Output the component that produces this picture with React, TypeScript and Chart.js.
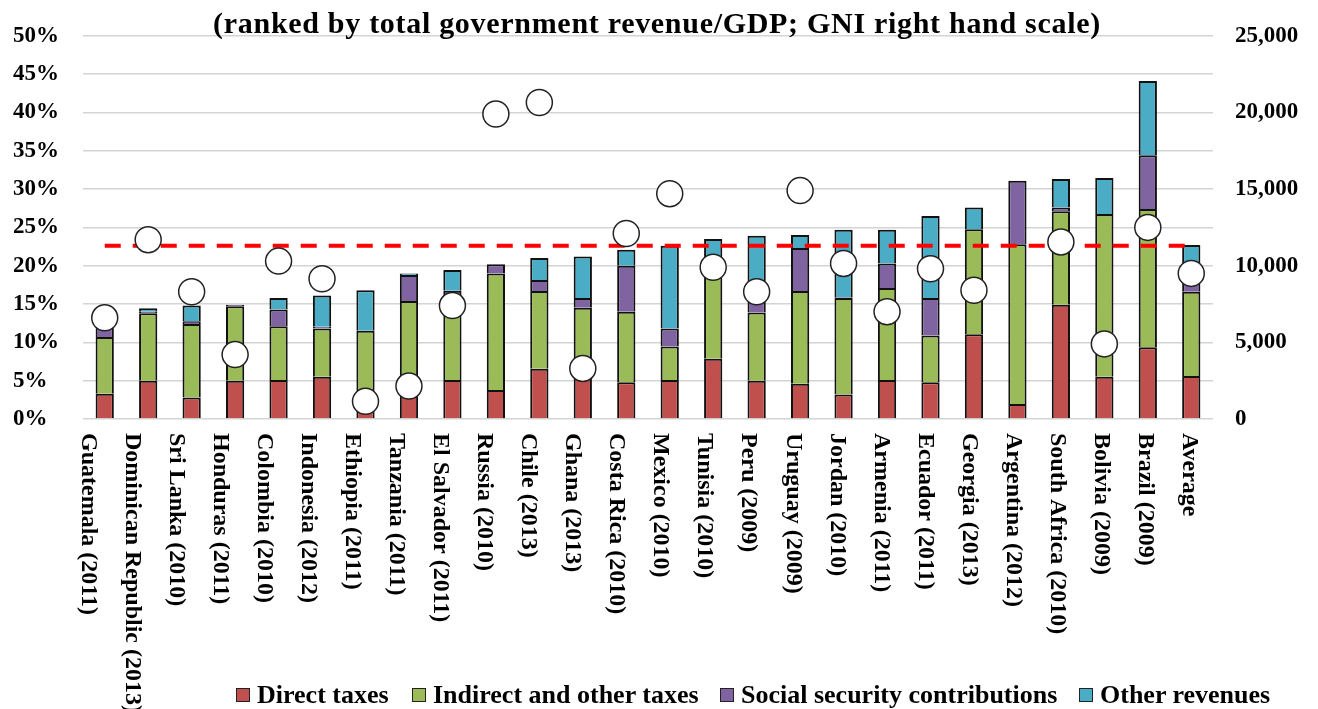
import React, { useEffect, useRef } from 'react';
import { Chart, registerables } from 'chart.js';

Chart.register(...registerables);

const categories = [
  'Guatemala (2011)', 'Dominican Republic (2013)', 'Sri Lanka (2010)', 'Honduras (2011)',
  'Colombia (2010)', 'Indonesia (2012)', 'Ethiopia (2011)', 'Tanzania (2011)',
  'El Salvador (2011)', 'Russia (2010)', 'Chile (2013)', 'Ghana (2013)',
  'Costa Rica (2010)', 'Mexico (2010)', 'Tunisia (2010)', 'Peru (2009)',
  'Uruguay (2009)', 'Jordan (2010)', 'Armenia (2011)', 'Ecuador (2011)',
  'Georgia (2013)', 'Argentina (2012)', 'South Africa (2010)', 'Bolivia (2009)',
  'Brazil (2009)', 'Average',
];

// % of GDP
const directTaxes = [3.3, 5.0, 2.8, 5.0, 5.1, 5.5, 2.0, 3.5, 5.1, 3.8, 6.55, 6.0, 4.8, 5.1, 7.85, 5.0, 4.6, 3.2, 5.1, 4.8, 11.05, 1.95, 14.9, 5.5, 9.35, 5.6];
const indirectTaxes = [7.4, 8.8, 9.6, 9.7, 7.0, 6.3, 9.5, 11.9, 10.9, 15.2, 10.15, 8.5, 9.2, 4.35, 13.15, 8.9, 12.1, 12.6, 12.0, 6.1, 13.7, 20.85, 12.2, 21.25, 18.05, 11.0];
const socialSecurity = [2.3, 0.2, 0.35, 0.2, 2.2, 0.25, 0, 3.4, 0.75, 1.2, 1.45, 1.3, 6.0, 2.35, 0, 2.1, 5.6, 0.1, 3.2, 4.9, 0, 8.3, 0.5, 0, 7.0, 1.9];
const otherRevenues = [0, 0.45, 2.05, 0, 1.5, 4.05, 5.3, 0.2, 2.7, 0, 2.85, 5.4, 2.1, 10.8, 2.5, 7.9, 1.7, 8.8, 4.4, 10.7, 2.85, 0, 3.7, 4.7, 9.7, 4.2];
// GNI per capita, right hand scale
const gniPerCapita = [6600, 11700, 8300, 4200, 10300, 9150, 1150, 2150, 7400, 19900, 20650, 3300, 12100, 14700, 9900, 8300, 14900, 10150, 7000, 9800, 8400, null, 11550, 4900, 12500, 9500];
const averageRevenue = 22.6;

const seriesNames = ['Direct taxes', 'Indirect and other taxes', 'Social security contributions', 'Other revenues'];
const seriesColors = ['#C0504D', '#9BBB59', '#8064A2', '#4BACC6'];

const titleText = '(ranked by total government revenue/GDP; GNI right hand scale)';
const FONT = '"Liberation Serif", "Times New Roman", serif';

const xLabelPlugin = {
  id: 'rotatedXLabels',
  afterDraw(chart: any) {
    const { ctx, scales, chartArea } = chart;
    const x = scales.x;
    const n = categories.length;
    const last = x.getPixelForValue(n - 1);
    ctx.save();
    ctx.font = `bold 24px ${FONT}`;
    ctx.fillStyle = '#000';
    ctx.textAlign = 'left';
    ctx.textBaseline = 'middle';
    categories.forEach((c, i) => {
      const px = x.getPixelForValue(i);
      const lx = px - 2 - (last - px) * 0.0138;
      ctx.save();
      ctx.translate(lx, chartArea.bottom + 14);
      ctx.rotate(Math.PI / 2);
      ctx.fillText(c, 0, 0);
      ctx.restore();
    });
    ctx.restore();
  },
};

export default function App() {
  const canvasRef = useRef<HTMLCanvasElement | null>(null);

  useEffect(() => {
    if (!canvasRef.current) return;
    const tickFont = { family: FONT, size: 23, weight: 'bold' as const };
    const barData = [directTaxes, indirectTaxes, socialSecurity, otherRevenues];
    const chart = new Chart(canvasRef.current, {
      type: 'bar',
      data: {
        labels: categories,
        datasets: [
          {
            type: 'line' as const,
            label: 'GNI per capita',
            data: gniPerCapita,
            yAxisID: 'y1',
            showLine: false,
            pointRadius: 13,
            pointBackgroundColor: '#ffffff',
            pointBorderColor: '#222222',
            pointBorderWidth: 1.5,
            order: 0,
            stack: 'gni',
          },
          {
            type: 'line' as const,
            label: 'Average revenue',
            data: categories.map(() => averageRevenue),
            yAxisID: 'y',
            borderColor: '#FF0000',
            borderWidth: 4,
            borderDash: [16, 12],
            pointRadius: 0,
            fill: false,
            order: 1,
            stack: 'avg',
          },
          ...barData.map((d, i) => ({
            type: 'bar' as const,
            label: seriesNames[i],
            data: d,
            yAxisID: 'y',
            backgroundColor: seriesColors[i],
            borderColor: '#111111',
            borderWidth: 2,
            borderSkipped: 'start' as const,
            barPercentage: 0.42,
            categoryPercentage: 1.0,
            order: 2,
            stack: 'rev',
          })),
        ],
      },
      options: {
        animation: false,
        responsive: false,
        layout: { padding: { left: 13, top: 35, right: 0, bottom: 0 } },
        plugins: {
          legend: { display: false },
          title: { display: false },
          tooltip: { enabled: false },
        },
        scales: {
          x: {
            stacked: true,
            grid: { display: false },
            border: { display: false },
            ticks: { display: false },
            afterFit: (s: any) => { s.height = 290; },
          },
          y: {
            stacked: true,
            min: 0,
            max: 50,
            position: 'left',
            ticks: {
              stepSize: 5,
              callback: (v: any) => `${v}%`,
              font: tickFont,
              color: '#000',
              crossAlign: 'far',
              padding: 0,
            },
            grid: { color: '#d4d4d4', lineWidth: 1.5, drawTicks: false },
            border: { display: false },
            afterFit: (s: any) => { s.width = 70; },
          },
          y1: {
            min: 0,
            max: 25000,
            position: 'right',
            ticks: {
              stepSize: 5000,
              callback: (v: any) => Number(v).toLocaleString('en-US'),
              font: tickFont,
              color: '#000',
              padding: 22,
            },
            grid: { display: false, drawTicks: false },
            border: { display: false },
            afterFit: (s: any) => { s.width = 105; },
          },
        },
      },
      plugins: [xLabelPlugin],
    });
    return () => chart.destroy();
  }, []);

  const legendX = [236, 412, 720, 1079];

  return (
    <div style={{ position: 'fixed', left: 0, top: 0, width: 1318, height: 709, background: '#fff', fontFamily: FONT, overflow: 'hidden' }}>
      <canvas ref={canvasRef} width={1318} height={709} style={{ position: 'absolute', left: 0, top: 0, width: 1318, height: 709 }} />
      <div style={{ position: 'absolute', left: 0, top: 8, width: 1314, textAlign: 'center', fontSize: 30, letterSpacing: 0.7, fontWeight: 'bold', lineHeight: 1, color: '#000', whiteSpace: 'nowrap' }}>
        {titleText}
      </div>
      {seriesNames.map((name, i) => (
        <div key={name} style={{ position: 'absolute', left: legendX[i], top: 682, display: 'flex', alignItems: 'center', whiteSpace: 'nowrap' }}>
          <span style={{ display: 'inline-block', width: 14, height: 14, background: seriesColors[i], border: '1.5px solid #222', boxSizing: 'border-box', marginRight: 7 }} />
          <span style={{ fontSize: 26, fontWeight: 'bold', lineHeight: 1, color: '#000' }}>{name}</span>
        </div>
      ))}
    </div>
  );
}
